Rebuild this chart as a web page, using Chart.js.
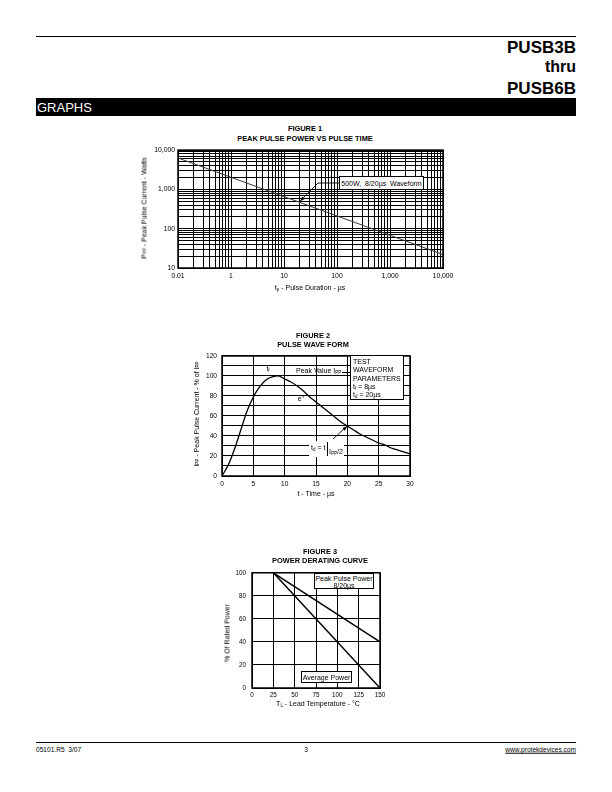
<!DOCTYPE html>
<html><head><meta charset="utf-8">
<script src="https://cdn.jsdelivr.net/npm/chart.js@4.4.1/dist/chart.umd.min.js"></script>
<style>
html,body{margin:0;padding:0;background:#fff;}
#page{position:relative;width:612px;height:792px;font-family:"Liberation Sans",Arial,Helvetica,sans-serif;color:#000;overflow:hidden;}
.abs{position:absolute;white-space:nowrap;line-height:1;}
.c{transform:translate(-50%,-50%);}
.vc{transform:translateY(-50%);}
.rot{writing-mode:vertical-rl;transform:translate(-50%,-50%) rotate(180deg);color:#000;}
.hdr{font-weight:bold;font-size:17px;transform:translateY(-50%);}
.ftitle{font-weight:bold;font-size:7.4px;}
.s7{font-size:7px;}
.s65{font-size:6.6px;}
.box{position:absolute;background:#fff;border:1px solid #000;box-sizing:border-box;}
sub{font-size:65%;vertical-align:-0.3em;line-height:0;}
sup{font-size:65%;vertical-align:0.5em;line-height:0;}
canvas{position:absolute;}
.hl{position:absolute;background:#000;}
</style></head>
<body>
<div id="page">
  <div class="hl" style="left:36px;top:36px;width:540px;height:1px"></div>
  <div class="abs hdr" style="right:36px;top:47px">PUSB3B</div>
  <div class="abs hdr" style="right:36px;top:67px;font-size:16px">thru</div>
  <div class="abs hdr" style="right:36px;top:88px">PUSB6B</div>
  <div class="hl" style="left:36px;top:98px;width:540px;height:18px"></div>
  <div class="abs vc" style="left:37px;top:107px;color:#fff;font-size:13px">GRAPHS</div>

  <!-- Figure 1 -->
  <div class="abs c ftitle" style="left:305px;top:129px">FIGURE 1</div>
  <div class="abs c ftitle" style="left:305px;top:138.5px">PEAK PULSE POWER VS PULSE TIME</div>
  <canvas id="c1" width="333" height="147" style="left:125px;top:143px;width:333px;height:147px"></canvas>
  <div class="abs c s7" style="left:310px;top:287px">t<sub>p</sub> - Pulse Duration - µs</div>
  <div class="abs rot s7" style="left:144px;top:208px">P<sub>PP</sub> - Peak Pulse Current - Watts</div>
  <div class="box" style="left:339px;top:176px;width:85px;height:14px"></div>
  <div class="abs c s7" style="left:381.5px;top:183px">500W,&nbsp; 8/20µs&nbsp; Waveform</div>

  <!-- Figure 2 -->
  <div class="abs c ftitle" style="left:313px;top:336px">FIGURE 2</div>
  <div class="abs c ftitle" style="left:313px;top:345px">PULSE WAVE FORM</div>
  <canvas id="c2" width="230" height="143" style="left:190px;top:347px;width:230px;height:143px"></canvas>
  <div class="abs c s7" style="left:316px;top:493px">t - Time - µs</div>
  <div class="abs rot s7" style="left:196px;top:414px">I<sub>PP</sub> - Peak Pulse Current - % of I<sub>PP</sub></div>
  <div class="abs c s7" style="left:268px;top:368px">t<sub>f</sub></div>
  <div class="abs vc s7" style="left:296px;top:370px">Peak Value I<sub>PP</sub></div>
  <div class="hl" style="left:342px;top:372px;width:8px;height:1px"></div>
  <div class="abs c s7" style="left:301px;top:398px">e<sup>-t</sup></div>
  <div class="box" style="left:350px;top:355px;width:54px;height:45px;border-width:1.5px"></div>
  <div class="abs vc s7" style="left:353px;top:360.5px">TEST</div>
  <div class="abs vc s7" style="left:353px;top:369px">WAVEFORM</div>
  <div class="abs vc s7" style="left:353px;top:377.5px">PARAMETERS</div>
  <div class="abs vc s7" style="left:353px;top:386px">t<sub>f</sub> = 8µs</div>
  <div class="abs vc s7" style="left:353px;top:394px">t<sub>d</sub> = 20µs</div>
  <div style="position:absolute;left:309px;top:441px;width:35px;height:16px;background:#fff"></div>
  <div class="abs vc s7" style="left:311px;top:447px">t<sub>d</sub> = t</div>
  <div class="hl" style="left:327px;top:442px;width:1px;height:14px"></div>
  <div class="abs vc s7" style="left:329px;top:451px">I<sub>PP</sub>/2</div>

  <!-- Figure 3 -->
  <div class="abs c ftitle" style="left:320px;top:552px">FIGURE 3</div>
  <div class="abs c ftitle" style="left:320px;top:561px">POWER DERATING CURVE</div>
  <canvas id="c3" width="170" height="137" style="left:220px;top:563px;width:170px;height:137px"></canvas>
  <div class="abs c s7" style="left:318px;top:703px">T<sub>L</sub> - Lead Temperature - °C</div>
  <div class="abs rot s7" style="left:227px;top:633px">% Of Rated Power</div>
  <div class="box" style="left:314px;top:573px;width:60px;height:16px"></div>
  <div class="abs c s7" style="left:344px;top:577.5px">Peak Pulse Power</div>
  <div class="abs c s7" style="left:344px;top:585px">8/20µs</div>
  <div class="box" style="left:301px;top:671px;width:51px;height:12px"></div>
  <div class="abs c s7" style="left:326.5px;top:677px">Average Power</div>

  <!-- footer -->
  <div class="hl" style="left:36px;top:742px;width:540px;height:1px"></div>
  <div class="abs vc s65" style="left:36px;top:750px">05101.R5&nbsp;&nbsp;3/07</div>
  <div class="abs c s65" style="left:306px;top:750px">3</div>
  <div class="abs vc s65" style="right:36px;top:750px;text-decoration:underline">www.protekdevices.com</div>
</div>
<script>
// ---------- Figure 1 data ----------
const fig1PulseTime = [0.1, 1, 10, 100, 1000, 10000];
const fig1PeakPower = [6300, 2030, 655, 211, 68, 22];
const fig1XDecades = [0.1, 1, 10, 100, 1000, 10000];
const fig1XTickLabels = ['0.01', '1', '10', '100', '1,000', '10,000'];
const fig1YDecades = [10, 100, 1000, 10000];
const fig1YTickLabels = ['10', '100', '1,000', '10,000'];
const fig1Callout = {t: 20, p: 500};

// ---------- Figure 2 data ----------
const fig2Time = [0,1,2,3,4,5,6,7,8,9,10,11,12,13,14,15,16,17,18,19,20,21,22,23,24,25,26,27,28,29,30];
const fig2Current = [0,11,27,46,65,79,89,96,99,100,97,94,90,85,79,74,69,64,59,54,50,46,42,39,36,33,31,28,26,24,22];
const fig2XTickValues = [0,5,10,15,20,25,30];
const fig2XTickLabels = ['0','5','10','15','20','25','30'];
const fig2YTickValues = [0,20,40,60,80,100,120];
const fig2YTickLabels = ['0','20','40','60','80','100','120'];
const fig2Callout = {t: 20, i: 50};

// ---------- Figure 3 data ----------
const fig3Temp = [25, 150];
const fig3PeakPulse = [100, 40];
const fig3Average = [100, 0];
const fig3XTickValues = [0,25,50,75,100,125,150];
const fig3XTickLabels = ['0','25','50','75','100','125','150'];
const fig3YTickValues = [0,20,40,60,80,100];
const fig3YTickLabels = ['0','20','40','60','80','100'];

Chart.defaults.font.family = '"Liberation Sans", Arial, sans-serif';
Chart.defaults.color = '#000';
Chart.defaults.animation = false;

function labelFrom(values, labels) {
  return (v) => {
    const i = values.findIndex(d => Math.abs(d - v) <= Math.abs(d) * 1e-9 + 1e-12);
    return i >= 0 ? labels[i] : '';
  };
}
function logGridTicks(decades) {
  const out = [];
  for (let i = 0; i < decades.length - 1; i++) {
    for (let m = 1; m <= 9; m++) out.push(Number((decades[i] * m).toPrecision(8)));
  }
  out.push(decades[decades.length - 1]);
  return out.map(v => ({value: v}));
}

const framePlugin = {
  id: 'frame',
  afterDraw(chart, args, opts) {
    const a = chart.chartArea, ctx = chart.ctx;
    ctx.save();
    ctx.strokeStyle = '#000';
    ctx.lineWidth = opts.width || 1.5;
    ctx.strokeRect(a.left, a.top, a.right - a.left, a.bottom - a.top);
    ctx.restore();
  }
};
const arrowPlugin = {
  id: 'arrows',
  afterDraw(chart, args, opts) {
    if (!opts.items) return;
    const ctx = chart.ctx, xs = chart.scales.x, ys = chart.scales.y;
    ctx.save();
    ctx.strokeStyle = '#000'; ctx.fillStyle = '#000'; ctx.lineWidth = 0.9;
    for (const it of opts.items) {
      const tip = [xs.getPixelForValue(it.to[0]), ys.getPixelForValue(it.to[1])];
      const pts = it.from.concat([tip]);
      ctx.beginPath();
      ctx.moveTo(pts[0][0], pts[0][1]);
      for (let k = 1; k < pts.length; k++) ctx.lineTo(pts[k][0], pts[k][1]);
      ctx.stroke();
      const p = pts[pts.length - 2];
      const ang = Math.atan2(tip[1] - p[1], tip[0] - p[0]);
      const L = 5, W = 1.8;
      ctx.beginPath();
      ctx.moveTo(tip[0], tip[1]);
      ctx.lineTo(tip[0] - L * Math.cos(ang) + W * Math.sin(ang), tip[1] - L * Math.sin(ang) - W * Math.cos(ang));
      ctx.lineTo(tip[0] - L * Math.cos(ang) - W * Math.sin(ang), tip[1] - L * Math.sin(ang) + W * Math.cos(ang));
      ctx.closePath(); ctx.fill();
    }
    ctx.restore();
  }
};

const gridOpts = {color: '#000', lineWidth: 1, drawTicks: false};
const borderOpts = {display: true, color: '#000', width: 1};

// ---------- Chart 1 ----------
new Chart(document.getElementById('c1'), {
  type: 'line',
  data: {
    datasets: [{
      data: fig1PulseTime.map((t, i) => ({x: t, y: fig1PeakPower[i]})),
      borderColor: '#3a3a3a', borderWidth: 1, pointRadius: 0, tension: 0
    }]
  },
  options: {
    responsive: false, devicePixelRatio: 1,
    layout: {padding: {left: 0, top: 5, right: 15, bottom: 0}},
    plugins: {legend: {display: false}, tooltip: {enabled: false},
      frame: {width: 1.5},
      arrows: {items: [{from: [[214, 40], [193, 40]], to: [fig1Callout.t, fig1Callout.p]}]}},
    scales: {
      x: {type: 'logarithmic', min: 0.1, max: 10000,
        afterBuildTicks: (s) => { s.ticks = logGridTicks(fig1XDecades); },
        afterFit: (s) => { s.height = 22; },
        grid: gridOpts, border: borderOpts,
        ticks: {autoSkip: false, maxRotation: 0, minRotation: 0, padding: 4, font: {size: 6.8},
          callback: labelFrom(fig1XDecades, fig1XTickLabels)}},
      y: {type: 'logarithmic', min: 10, max: 10000,
        afterBuildTicks: (s) => { s.ticks = logGridTicks(fig1YDecades); },
        afterFit: (s) => { s.width = 53; },
        grid: gridOpts, border: borderOpts,
        ticks: {autoSkip: false, padding: 3, font: {size: 6.8},
          callback: labelFrom(fig1YDecades, fig1YTickLabels)}}
    }
  },
  plugins: [framePlugin, arrowPlugin]
});

// ---------- Chart 2 ----------
new Chart(document.getElementById('c2'), {
  type: 'line',
  data: {
    datasets: [{
      data: fig2Time.map((t, i) => ({x: t, y: fig2Current[i]})),
      borderColor: '#000', borderWidth: 1.3, pointRadius: 0, cubicInterpolationMode: 'monotone'
    }]
  },
  options: {
    responsive: false, devicePixelRatio: 1,
    layout: {padding: {left: 0, top: 5, right: 10, bottom: 0}},
    plugins: {legend: {display: false}, tooltip: {enabled: false},
      frame: {width: 1.5},
      arrows: {items: [{from: [[143, 92]], to: [fig2Callout.t, fig2Callout.i]}]}},
    scales: {
      x: {type: 'linear', min: 0, max: 30,
        afterFit: (s) => { s.height = 14; },
        grid: gridOpts, border: borderOpts,
        ticks: {stepSize: 5, autoSkip: false, maxRotation: 0, padding: 4, font: {size: 6.6},
          callback: labelFrom(fig2XTickValues, fig2XTickLabels)}},
      y: {type: 'linear', min: 0, max: 120,
        afterFit: (s) => { s.width = 32; },
        grid: gridOpts, border: borderOpts,
        ticks: {stepSize: 10, autoSkip: false, padding: 5, font: {size: 6.6},
          callback: labelFrom(fig2YTickValues, fig2YTickLabels)}}
    }
  },
  plugins: [framePlugin, arrowPlugin]
});

// ---------- Chart 3 ----------
new Chart(document.getElementById('c3'), {
  type: 'line',
  data: {
    datasets: [
      {label: 'Peak Pulse Power 8/20µs', data: fig3Temp.map((t, i) => ({x: t, y: fig3PeakPulse[i]})),
        borderColor: '#000', borderWidth: 1.5, pointRadius: 0},
      {label: 'Average Power', data: fig3Temp.map((t, i) => ({x: t, y: fig3Average[i]})),
        borderColor: '#000', borderWidth: 1.5, pointRadius: 0}
    ]
  },
  options: {
    responsive: false, devicePixelRatio: 1,
    layout: {padding: {left: 0, top: 5, right: 10, bottom: 0}},
    plugins: {legend: {display: false}, tooltip: {enabled: false}, frame: {width: 1.5}},
    scales: {
      x: {type: 'linear', min: 0, max: 150,
        afterFit: (s) => { s.height = 12; },
        grid: gridOpts, border: borderOpts,
        ticks: {stepSize: 25, autoSkip: false, maxRotation: 0, padding: 3, font: {size: 6.3},
          callback: labelFrom(fig3XTickValues, fig3XTickLabels)}},
      y: {type: 'linear', min: 0, max: 100,
        afterFit: (s) => { s.width = 32; },
        grid: gridOpts, border: borderOpts,
        ticks: {stepSize: 20, autoSkip: false, padding: 6, font: {size: 6.3},
          callback: labelFrom(fig3YTickValues, fig3YTickLabels)}}
    }
  },
  plugins: [framePlugin]
});
</script>
</body></html>
